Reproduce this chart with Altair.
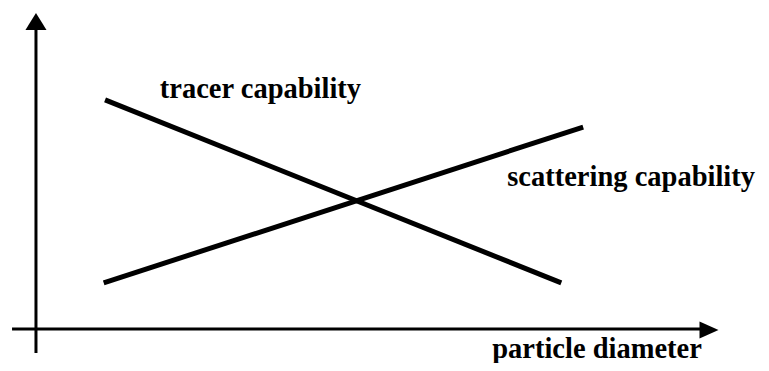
import altair as alt
import pandas as pd

# Conceptual schematic coordinates (origin = axis crossing, arrow tips at 10)
series = ["tracer capability", "tracer capability", "scattering capability", "scattering capability"]
series_x = [1.01, 7.68, 0.99, 8.00]
series_y = [7.25, 1.46, 1.46, 6.39]

axis_names = ["x-axis", "x-axis", "y-axis", "y-axis"]
axis_x = [-0.35, 9.78, 0.0, 0.0]
axis_y = [0.0, 0.0, -0.76, 9.62]

labels = ["tracer capability", "scattering capability", "particle diameter"]
label_x = [1.81, 6.89, 6.67]
label_y = [7.31, 4.53, -0.92]

up_arrow_x = [0.0]
up_arrow_y = [9.73]
right_arrow_x = [9.84]
right_arrow_y = [-0.03]

xs = alt.Scale(domain=[-0.409, 10.6], nice=False, zero=False)
ys = alt.Scale(domain=[-1.076, 10.158], nice=False, zero=False)

lines_df = pd.DataFrame({"series": series, "x": series_x, "y": series_y,
                         "o": [0, 1, 0, 1]})
axes_df = pd.DataFrame({"axis": axis_names, "x": axis_x, "y": axis_y, "o": [0, 1, 0, 1]})
labels_df = pd.DataFrame({"label": labels, "x": label_x, "y": label_y})
up_df = pd.DataFrame({"x": up_arrow_x, "y": up_arrow_y})
right_df = pd.DataFrame({"x": right_arrow_x, "y": right_arrow_y})

X = lambda: alt.X("x:Q", scale=xs, axis=None)
Y = lambda: alt.Y("y:Q", scale=ys, axis=None)

axes_layer = alt.Chart(axes_df).mark_line(color="black", strokeWidth=3).encode(
    x=X(), y=Y(), detail="axis:N", order="o:Q")

up_layer = alt.Chart(up_df).mark_point(
    shape="M-1.24,1L0,-1L1.24,1Z", size=289, filled=True, color="black",
    opacity=1, strokeWidth=0).encode(x=X(), y=Y())

right_layer = alt.Chart(right_df).mark_point(
    shape="M-1,-0.9L1,0L-1,0.9Z", size=361, filled=True, color="black",
    opacity=1, strokeWidth=0).encode(x=X(), y=Y())

lines_layer = alt.Chart(lines_df).mark_line(color="black", strokeWidth=5).encode(
    x=X(), y=Y(), detail="series:N", order="o:Q")

text_layer = alt.Chart(labels_df).mark_text(
    align="left", baseline="alphabetic", font="Liberation Serif",
    fontWeight="bold", fontSize=28.5, color="black").encode(
    x=X(), y=Y(), text="label:N")

chart = alt.layer(axes_layer, up_layer, right_layer, lines_layer, text_layer).properties(
    width=753, height=355, padding=0,
    autosize=alt.AutoSizeParams(type="none"),
    background="white",
).configure_view(stroke=None)

chart.save("out.html", embed_options={"renderer": "svg", "actions": False})
